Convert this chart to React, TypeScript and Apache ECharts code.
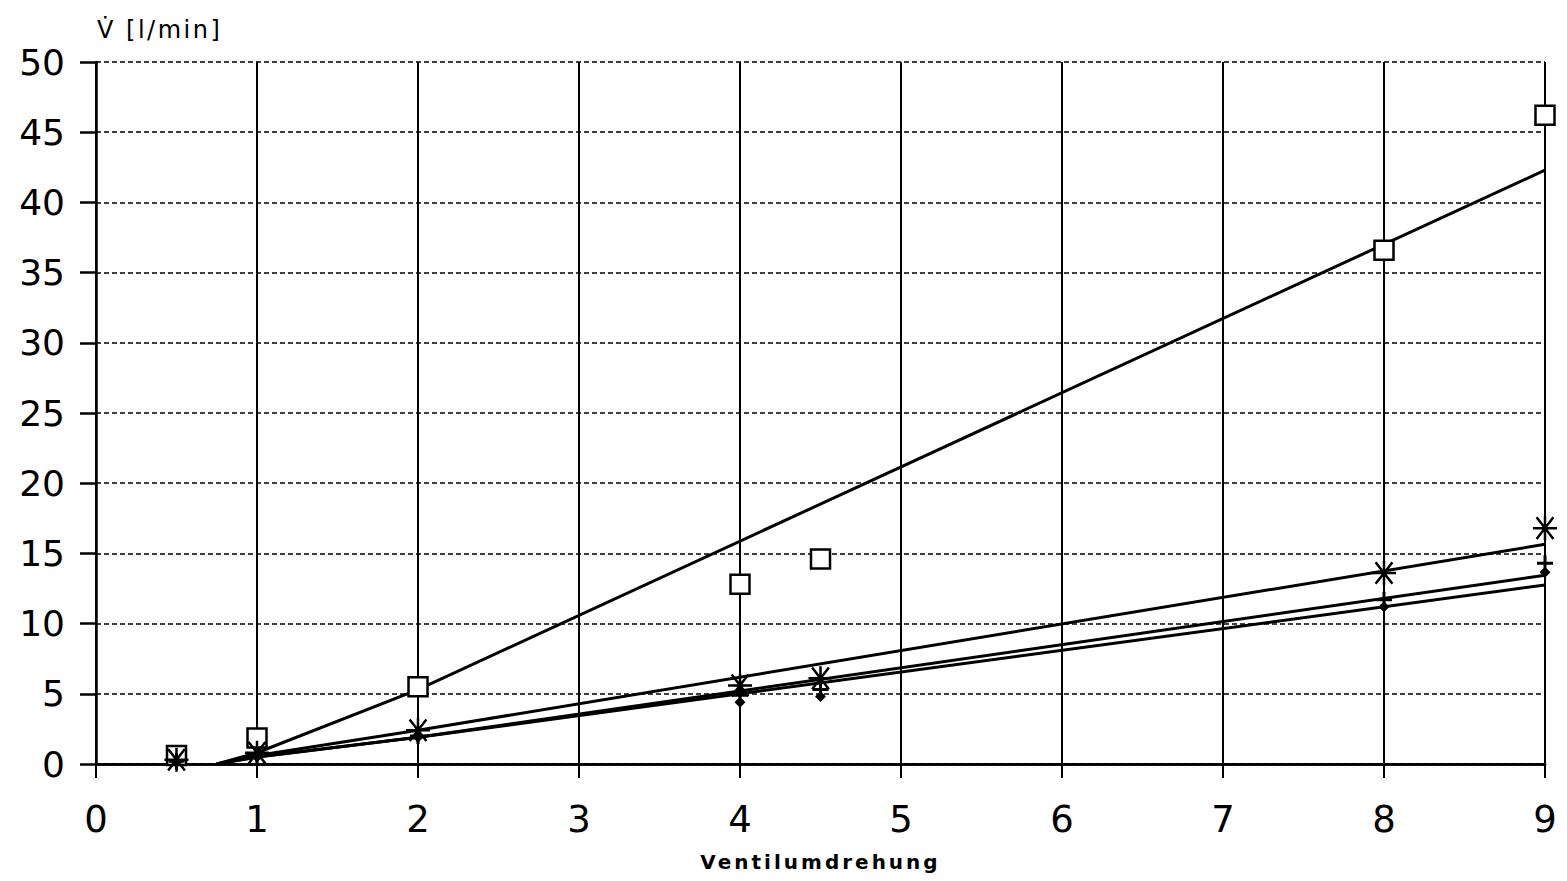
import React, { useEffect, useRef } from "react";
import * as echarts from "echarts";

// Ventilumdrehung (valve turns) at which the flow was measured
const turns = [0.5, 1, 2, 4, 4.5, 8, 9];

// Measured volume flow V̇ [l/min] for the four runs
const flowSquare = [0.6, 1.85, 5.5, 12.8, 14.6, 36.6, 46.2];
const flowStar = [0.3, 0.8, 2.4, 5.6, 6.1, 13.6, 16.8];
const flowPlus = [0.2, 0.6, 2.0, 4.9, 5.3, 11.7, 14.3];
const flowDot = [0.1, 0.5, 1.9, 4.4, 4.8, 11.2, 13.65];

// Fitted trend lines (turns, flow)
const fitTurns = [0.75, 1, 2, 9];
const fitSquare = [0, 0.8, 5.3, 42.3];
const fitStar = [0, 0.6, 2.4, 15.65];
const fitPlus = [0, 0.5, 1.9, 13.45];
const fitDot = [0, 0.5, 1.9, 12.75];

// Axis ticks
const xTicks = [0, 1, 2, 3, 4, 5, 6, 7, 8, 9];
const yTicks = [0, 5, 10, 15, 20, 25, 30, 35, 40, 45, 50];

const FONT = "DejaVu Sans";
const ASTERISK = "path://M0,10L20,10M3,1L17,19M17,1L3,19M10,0L10,20";
const PLUS = "path://M0,8L16,8M8,0L8,16";

const pairs = (xs: number[], ys: number[]) => xs.map((x, i) => [x, ys[i]]);

export default function App() {
  const ref = useRef<HTMLDivElement>(null);

  useEffect(() => {
    if (!ref.current) return;
    const chart = echarts.init(ref.current, undefined, { renderer: "svg" });

    const fitLine = (name: string, ys: number[]) => ({
      name,
      type: "line",
      data: pairs(fitTurns, ys),
      symbol: "none",
      lineStyle: { color: "#000", width: 3 },
      z: 3,
    });

    chart.setOption({
      animation: false,
      backgroundColor: "#fff",
      grid: { left: 96, right: 22, top: 62, bottom: 117 },
      xAxis: [
        {
          type: "value",
          min: xTicks[0],
          max: xTicks[xTicks.length - 1],
          interval: 1,
          name: "Ventilumdrehung",
          nameLocation: "middle",
          nameGap: 88,
          nameTextStyle: { fontFamily: FONT, fontSize: 20, fontWeight: "bold", color: "#000" },
          axisLine: { show: true, onZero: false, lineStyle: { color: "#000", width: 2.5 } },
          axisTick: { show: true, length: 14, lineStyle: { color: "#000", width: 2 } },
          axisLabel: { fontFamily: FONT, fontSize: 37, color: "#000", margin: 37 },
          splitLine: { show: true, lineStyle: { color: "#000", width: 2, type: "solid" } },
        },
        {
          type: "value",
          position: "top",
          min: xTicks[0],
          max: xTicks[xTicks.length - 1],
          interval: 1,
          axisLine: { show: true, lineStyle: { color: "#000", width: 2.5 } },
          axisTick: { show: false },
          axisLabel: { show: false },
          splitLine: { show: false },
        },
      ],
      yAxis: {
        type: "value",
        min: yTicks[0],
        max: yTicks[yTicks.length - 1],
        interval: 5,
        axisLine: { show: true, lineStyle: { color: "#000", width: 2.5 } },
        axisTick: { show: true, length: 16, lineStyle: { color: "#000", width: 2.5 } },
        axisLabel: { fontFamily: FONT, fontSize: 36, color: "#000", margin: 31 },
        splitLine: { show: true, lineStyle: { color: "#000", width: 1.5, type: [5, 3] } },
      },
      graphic: [
        {
          type: "text",
          left: 97,
          top: 18,
          style: { text: "V\u0307 [l/min]", font: `24px "${FONT}"`, fill: "#000" },
        },
      ],
      series: [
        fitLine("Trend □", fitSquare),
        fitLine("Trend *", fitStar),
        fitLine("Trend +", fitPlus),
        fitLine("Trend ◆", fitDot),
        {
          name: "□",
          type: "scatter",
          data: pairs(turns, flowSquare),
          symbol: "rect",
          symbolSize: 19,
          itemStyle: { color: "#fff", borderColor: "#000", borderWidth: 2.5, opacity: 1 },
          z: 5,
        },
        {
          name: "*",
          type: "scatter",
          data: pairs(turns, flowStar),
          symbol: ASTERISK,
          symbolSize: 24,
          itemStyle: { color: "transparent", borderColor: "#000", borderWidth: 2.5, opacity: 1 },
          z: 6,
        },
        {
          name: "+",
          type: "scatter",
          data: pairs(turns, flowPlus),
          symbol: PLUS,
          symbolSize: 16,
          itemStyle: { color: "transparent", borderColor: "#000", borderWidth: 3, opacity: 1 },
          z: 6,
        },
        {
          name: "◆",
          type: "scatter",
          data: pairs(turns, flowDot),
          symbol: "diamond",
          symbolSize: 11,
          itemStyle: { color: "#000", opacity: 1 },
          z: 6,
        },
      ],
    });

    // widen the letter spacing of the axis titles
    const spacing: Record<string, string> = { Ventilumdrehung: "3px", "V\u0307 [l/min]": "2.5px" };
    ref.current.querySelectorAll("text").forEach((t) => {
      const s = spacing[(t.textContent || "").trim()];
      if (s) (t as SVGTextElement).style.letterSpacing = s;
    });

    return () => chart.dispose();
  }, []);

  return <div ref={ref} style={{ position: "fixed", left: 0, top: 0, width: 1567, height: 881 }} />;
}
